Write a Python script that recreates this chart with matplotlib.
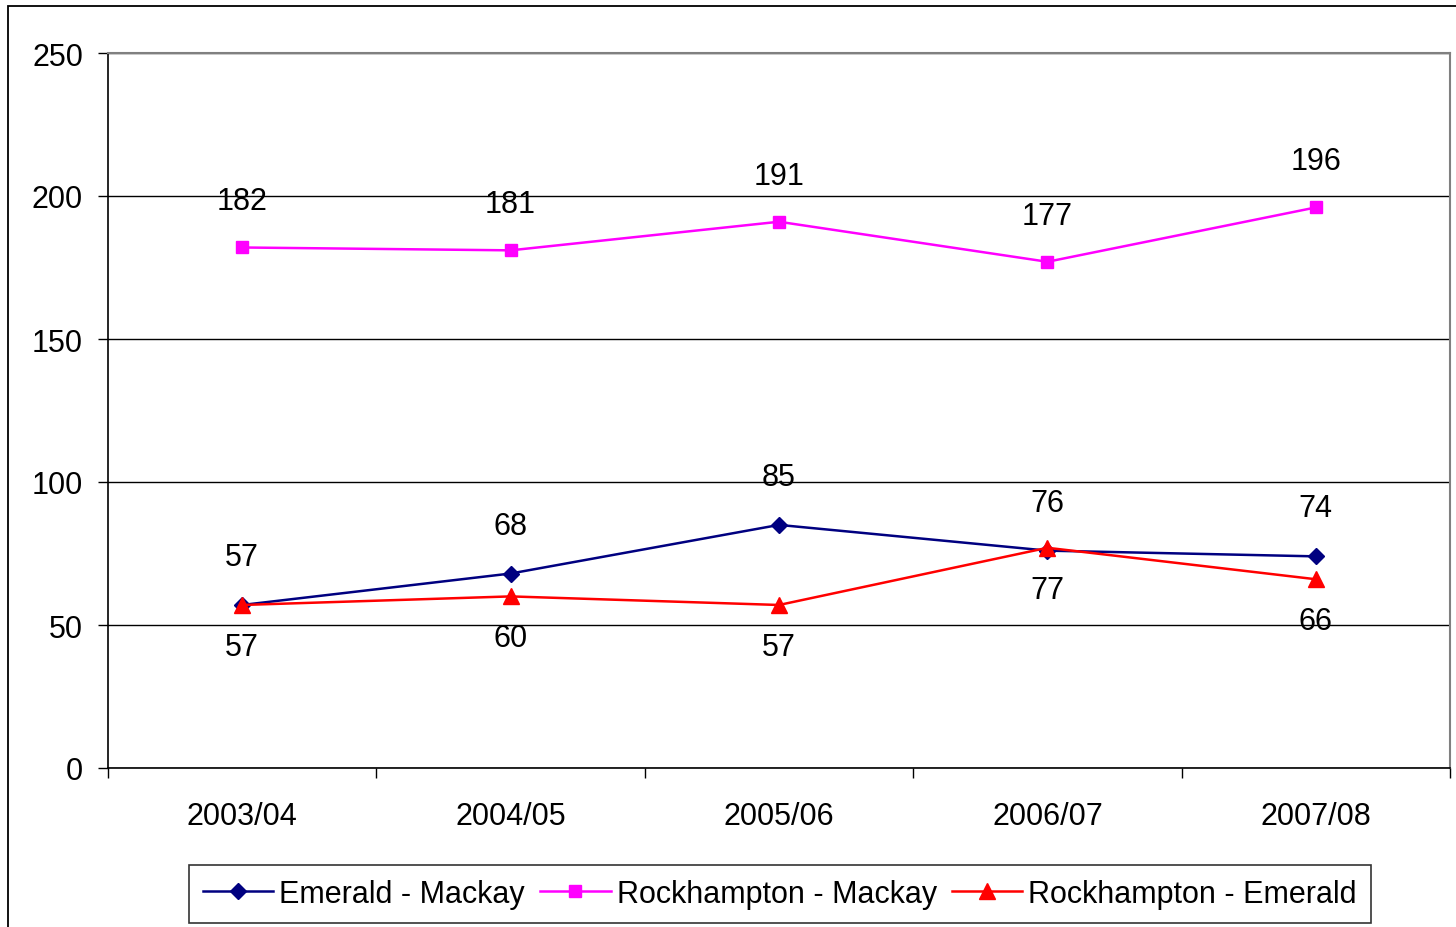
import numpy as np
import matplotlib.pyplot as plt
from matplotlib.patches import Rectangle

plt.rcParams['font.family'] = ['Liberation Sans', 'DejaVu Sans']

years = ["2003/04", "2004/05", "2005/06", "2006/07", "2007/08"]
emerald_mackay = [57, 68, 85, 76, 74]
rock_mackay = [182, 181, 191, 177, 196]
rock_emerald = [57, 60, 57, 77, 66]

fig = plt.figure(figsize=(14.56, 9.28), dpi=100)
ax = fig.add_axes([108/1456, 1-769/928, (1450-108)/1456, (769-54)/928])

# outer chart border (only left + top visible in the picture)
fig.patches.append(Rectangle((8/1456, -0.5), 2, 0.5 + 1 - 7/928, transform=fig.transFigure,
                             fill=False, edgecolor='black', lw=1.3))

x = np.arange(len(years))
ax.plot(x, emerald_mackay, color='#000080', marker='D', ms=8, lw=1.8, label='Emerald - Mackay', zorder=3)
ax.plot(x, rock_mackay, color='#FF00FF', marker='s', ms=9, lw=1.8, label='Rockhampton - Mackay', zorder=3)
ax.plot(x, rock_emerald, color='#FF0000', marker='^', ms=11, lw=1.8, label='Rockhampton - Emerald', zorder=4)

fs = 22
for i in x:
    ax.annotate(str(rock_mackay[i]), (i, rock_mackay[i]), xytext=(0, 46), textcoords='offset pixels',
                ha='center', va='center', fontsize=fs)
    ax.annotate(str(emerald_mackay[i]), (i, emerald_mackay[i]), xytext=(0, 48), textcoords='offset pixels',
                ha='center', va='center', fontsize=fs)
    ax.annotate(str(rock_emerald[i]), (i, rock_emerald[i]), xytext=(0, -42), textcoords='offset pixels',
                ha='center', va='center', fontsize=fs)

ax.set_xlim(-0.5, 4.5)
ax.set_ylim(0, 250)
ax.set_yticks([0, 50, 100, 150, 200, 250])
ax.set_xticks(x)
ax.set_xticklabels(years)
ax.set_xticks(np.arange(-0.5, 5, 1), minor=True)
ax.tick_params(axis='x', which='major', length=0, pad=24, labelsize=fs)
ax.tick_params(axis='x', which='minor', length=7, width=1, color='black', direction='out')
ax.tick_params(axis='y', length=7, width=1, direction='out', pad=11, labelsize=fs)
ax.grid(axis='y', color='black', lw=1)
ax.set_axisbelow(True)

for s in ['top', 'right']:
    ax.spines[s].set_color('#808080')
    ax.spines[s].set_linewidth(1.5)
ax.spines['left'].set_color('black')
ax.spines['bottom'].set_color('black')
ax.spines['left'].set_linewidth(1.2)
ax.spines['bottom'].set_linewidth(1.2)

leg = fig.legend(loc='center', bbox_to_anchor=(780/1456, 1-895/928), ncol=3, fontsize=fs,
                 frameon=True, fancybox=False, edgecolor='black', handlelength=2.3,
                 handletextpad=0.2, columnspacing=0.5, borderpad=0.45, borderaxespad=0)
leg.get_frame().set_linewidth(1.2)

fig.savefig("out.png", dpi=100)
